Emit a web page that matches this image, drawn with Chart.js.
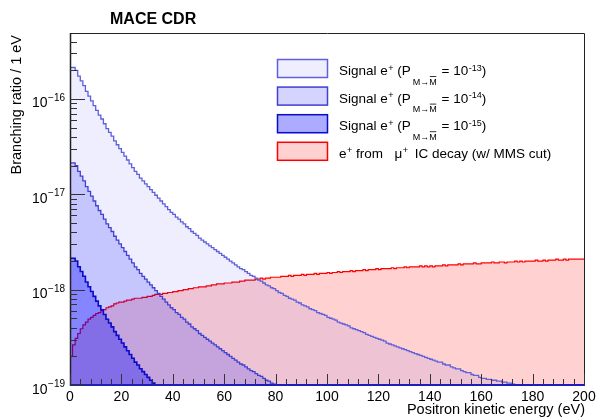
<!DOCTYPE html>
<html>
<head>
<meta charset="utf-8">
<script src="https://cdn.jsdelivr.net/npm/chart.js@4.4.1/dist/chart.umd.min.js"></script>
<style>
  html, body { margin: 0; padding: 0; background: #fff; }
</style>
</head>
<body>
<canvas id="chart-1" width="604" height="418"></canvas>
<script>
// histogram contents, one entry per 1 eV bin starting at 0 eV, stored as log10(branching ratio)
const signal13Log10 = [
  -15.83, -15.67, -15.67, -15.70, -15.76, -15.81, -15.86, -15.92, -15.97, -16.02,
  -16.07, -16.12, -16.17, -16.21, -16.26, -16.31, -16.35, -16.39, -16.44, -16.48,
  -16.52, -16.56, -16.60, -16.64, -16.68, -16.72, -16.76, -16.79, -16.83, -16.86,
  -16.89, -16.92, -16.95, -16.98, -17.01, -17.04, -17.07, -17.10, -17.13, -17.16,
  -17.19, -17.21, -17.24, -17.26, -17.29, -17.31, -17.34, -17.36, -17.39, -17.41,
  -17.43, -17.46, -17.48, -17.50, -17.52, -17.54, -17.56, -17.58, -17.60, -17.62,
  -17.64, -17.66, -17.68, -17.70, -17.72, -17.74, -17.76, -17.78, -17.79, -17.81,
  -17.83, -17.85, -17.86, -17.88, -17.90, -17.91, -17.93, -17.95, -17.96, -17.98,
  -17.99, -18.01, -18.03, -18.04, -18.06, -18.07, -18.09, -18.10, -18.11, -18.13,
  -18.14, -18.16, -18.17, -18.18, -18.20, -18.21, -18.22, -18.24, -18.25, -18.26,
  -18.27, -18.29, -18.30, -18.31, -18.32, -18.34, -18.35, -18.36, -18.37, -18.38,
  -18.40, -18.41, -18.42, -18.43, -18.44, -18.45, -18.47, -18.48, -18.49, -18.50,
  -18.51, -18.52, -18.53, -18.54, -18.56, -18.57, -18.58, -18.59, -18.60, -18.61,
  -18.62, -18.63, -18.64, -18.65, -18.66, -18.67, -18.68, -18.69, -18.70, -18.71,
  -18.72, -18.73, -18.74, -18.75, -18.76, -18.76, -18.78, -18.79, -18.79, -18.81,
  -18.82, -18.83, -18.83, -18.85, -18.86, -18.87, -18.87, -18.89, -18.90, -18.90,
  -18.92, -18.93, -18.93, -18.94, -18.94, -18.95, -18.95, -18.96, -18.96, -18.97,
  -18.97, -18.98, -18.98, -18.99, -19.00, -19.01, -19.02
];

const signal14Log10 = [
  -16.83, -16.67, -16.67, -16.70, -16.76, -16.81, -16.86, -16.92, -16.97, -17.02,
  -17.07, -17.12, -17.17, -17.21, -17.26, -17.31, -17.35, -17.39, -17.44, -17.48,
  -17.52, -17.56, -17.60, -17.64, -17.68, -17.72, -17.76, -17.79, -17.83, -17.86,
  -17.89, -17.92, -17.95, -17.98, -18.01, -18.04, -18.07, -18.10, -18.13, -18.16,
  -18.19, -18.21, -18.24, -18.26, -18.29, -18.31, -18.34, -18.36, -18.39, -18.41,
  -18.43, -18.46, -18.48, -18.50, -18.52, -18.54, -18.56, -18.58, -18.60, -18.62,
  -18.64, -18.66, -18.68, -18.70, -18.72, -18.74, -18.76, -18.78, -18.79, -18.81,
  -18.83, -18.85, -18.86, -18.88, -18.90, -18.91, -18.93, -18.95, -18.96, -18.98,
  -18.99, -19.01, -19.03
];

const signal15Log10 = [
  -17.83, -17.67, -17.67, -17.70, -17.76, -17.81, -17.86, -17.92, -17.97, -18.02,
  -18.07, -18.12, -18.17, -18.21, -18.26, -18.31, -18.35, -18.39, -18.44, -18.48,
  -18.52, -18.56, -18.60, -18.64, -18.68, -18.72, -18.76, -18.79, -18.83, -18.86,
  -18.89, -18.92, -18.95, -18.98, -19.01, -19.04
];

// bin 0 is empty (drawn below the axis)
const icDecayLog10 = [
  -20.00, -18.70, -18.58, -18.51, -18.46, -18.41, -18.37, -18.34, -18.31, -18.29,
  -18.27, -18.25, -18.24, -18.22, -18.21, -18.19, -18.18, -18.17, -18.15, -18.14,
  -18.13, -18.13, -18.12, -18.11, -18.11, -18.10, -18.09, -18.09, -18.09, -18.08,
  -18.08, -18.07, -18.07, -18.06, -18.05, -18.05, -18.05, -18.04, -18.04, -18.03,
  -18.03, -18.02, -18.02, -18.01, -18.01, -18.00, -18.00, -17.99, -17.99, -17.98,
  -17.98, -17.97, -17.97, -17.97, -17.96, -17.96, -17.95, -17.95, -17.94, -17.94,
  -17.94, -17.93, -17.93, -17.93, -17.92, -17.92, -17.92, -17.91, -17.91, -17.90,
  -17.90, -17.90, -17.90, -17.89, -17.89, -17.88, -17.89, -17.88, -17.88, -17.87,
  -17.87, -17.87, -17.87, -17.86, -17.86, -17.86, -17.85, -17.86, -17.85, -17.85,
  -17.85, -17.84, -17.85, -17.84, -17.84, -17.84, -17.83, -17.84, -17.83, -17.83,
  -17.83, -17.82, -17.83, -17.82, -17.82, -17.81, -17.82, -17.81, -17.81, -17.81,
  -17.80, -17.81, -17.80, -17.80, -17.80, -17.79, -17.80, -17.79, -17.79, -17.79,
  -17.78, -17.79, -17.78, -17.78, -17.78, -17.78, -17.77, -17.78, -17.77, -17.77,
  -17.77, -17.76, -17.77, -17.76, -17.76, -17.76, -17.76, -17.75, -17.76, -17.75,
  -17.76, -17.75, -17.76, -17.75, -17.75, -17.75, -17.74, -17.75, -17.74, -17.74,
  -17.74, -17.74, -17.73, -17.74, -17.73, -17.73, -17.73, -17.73, -17.72, -17.73,
  -17.73, -17.72, -17.72, -17.72, -17.72, -17.71, -17.72, -17.72, -17.71, -17.71,
  -17.72, -17.71, -17.71, -17.71, -17.70, -17.71, -17.70, -17.71, -17.70, -17.70,
  -17.70, -17.70, -17.69, -17.70, -17.70, -17.69, -17.70, -17.69, -17.69, -17.69,
  -17.68, -17.69, -17.69, -17.68, -17.69, -17.68, -17.68, -17.68, -17.68, -17.68
];

const legendTexts = ['Signal e', 'Signal e', 'Signal e', 'e'];
const legendExponents = ['-13', '-14', '-15'];
const xTickLabels = ['0', '20', '40', '60', '80', '100', '120', '140', '160', '180', '200'];
const yDecades = [-19, -18, -17, -16];

const X_MIN = 0, X_MAX = 200, Y_MIN = 1e-19, Y_MAX = 4.92e-16;
const FONT = '"Liberation Sans", Arial, Helvetica, sans-serif';

// histogram -> stepped points (bin i spans [i, i+1])
function toHist(logs) {
  const pts = logs.map((v, i) => ({ x: i, y: Math.pow(10, v) }));
  pts.push({ x: logs.length, y: Math.pow(10, logs[logs.length - 1]) });
  return pts;
}

const series = [
  { label: 'sig13', data: signal13Log10, line: 'rgb(95,95,218)', fill: 'rgba(0,0,255,0.065)', width: 1.3, order: 3 },
  { label: 'sig14', data: signal14Log10, line: 'rgb(65,65,208)', fill: 'rgba(0,0,255,0.17)', width: 1.3, order: 2 },
  { label: 'sig15', data: signal15Log10, line: 'rgb(10,10,200)', fill: 'rgba(0,0,255,0.33)', width: 1.6, order: 1 },
  { label: 'icdecay', data: icDecayLog10, line: 'rgb(255,0,0)', fill: 'rgba(255,0,0,0.18)', width: 1.2, order: 4 }
];

function richText(ctx, x, base, pieces) {
  let cx = x;
  const pos = [];
  for (const p of pieces) {
    let size = 13.5, dy = 0;
    if (p.k === 'sup') { size = 9; dy = -4.5; }
    if (p.k === 'sub') { size = 9; dy = 9.5; }
    ctx.font = size + 'px ' + FONT;
    cx += p.dx || 0;
    ctx.fillText(p.t, cx, base + dy);
    pos.push({ x: cx, w: ctx.measureText(p.t).width, y: base + dy });
    cx += ctx.measureText(p.t).width;
  }
  return pos;
}

const decorations = {
  id: 'decorations',
  afterDraw(chart) {
    const { ctx, chartArea: a, scales: { x, y } } = chart;
    const L = Math.round(a.left), R = Math.round(a.right), T = Math.round(a.top), B = Math.round(a.bottom);
    ctx.save();

    // frame
    ctx.strokeStyle = '#222';
    ctx.lineWidth = 1;
    ctx.beginPath();
    ctx.moveTo(L + 0.5, T + 0.5); ctx.lineTo(R + 0.5, T + 0.5);
    ctx.lineTo(R + 0.5, B);
    ctx.stroke();
    ctx.lineWidth = 1.5;
    ctx.beginPath();
    ctx.moveTo(L + 0.5, T); ctx.lineTo(L + 0.5, B + 1);
    ctx.stroke();
    // histogram baseline along the bottom
    ctx.strokeStyle = 'rgb(30,30,190)';
    ctx.lineWidth = 2;
    ctx.beginPath();
    ctx.moveTo(L, B); ctx.lineTo(R + 1, B);
    ctx.stroke();

    // x ticks
    ctx.strokeStyle = '#333';
    ctx.lineWidth = 1;
    ctx.beginPath();
    for (let v = X_MIN; v <= X_MAX; v += 4) {
      const px = Math.round(x.getPixelForValue(v)) + 0.5;
      const len = v % 20 === 0 ? 11 : 6;
      ctx.moveTo(px, B); ctx.lineTo(px, B - len);
    }
    ctx.stroke();

    // y ticks
    ctx.beginPath();
    for (const d of yDecades) {
      for (let m = 1; m <= 9; m++) {
        const v = m * Math.pow(10, d);
        if (v > Y_MAX * 1.0001) break;
        const py = Math.round(y.getPixelForValue(v)) + 0.5;
        const len = m === 1 ? 15 : 7;
        ctx.moveTo(L, py); ctx.lineTo(L + len, py);
      }
    }
    ctx.stroke();

    // x tick labels
    ctx.fillStyle = '#000';
    ctx.font = '14px ' + FONT;
    ctx.textAlign = 'center';
    ctx.textBaseline = 'alphabetic';
    xTickLabels.forEach(t => {
      ctx.fillText(t, x.getPixelForValue(Number(t)), 401);
    });

    // y tick labels 10^d
    yDecades.forEach(d => {
      const py = y.getPixelForValue(Math.pow(10, d));
      const sup = '\u2212' + String(-d);
      ctx.font = '10px ' + FONT;
      const sw = ctx.measureText(sup).width;
      ctx.textAlign = 'left';
      ctx.fillText(sup, 65 - sw, py + 2);
      ctx.font = '14px ' + FONT;
      ctx.textAlign = 'right';
      ctx.fillText('10', 65 - sw - 0.5, py + 8.5);
    });

    // titles
    ctx.textAlign = 'left';
    ctx.font = 'bold 16px ' + FONT;
    ctx.fillText('MACE CDR', 110, 23.5);

    ctx.font = '14.5px ' + FONT;
    ctx.textAlign = 'right';
    ctx.fillText('Positron kinetic energy (eV)', R + 1, 414);

    ctx.save();
    ctx.translate(21, 35);
    ctx.rotate(-Math.PI / 2);
    ctx.fillText('Branching ratio / 1 eV', 0, 0);
    ctx.restore();

    // legend
    const boxL = 277, boxW = 51, boxH = 19, textX = 339;
    series.forEach((s, k) => {
      const cy = 68.5 + 27.6 * k;
      ctx.fillStyle = '#fff';
      ctx.fillRect(boxL, cy - boxH / 2, boxW, boxH);
      ctx.fillStyle = s.fill;
      ctx.fillRect(boxL, cy - boxH / 2, boxW, boxH);
      ctx.strokeStyle = s.line;
      ctx.lineWidth = 1.5;
      ctx.strokeRect(boxL + 0.5, cy - boxH / 2 + 0.5, boxW - 1, boxH - 1);

      ctx.fillStyle = '#000';
      ctx.textAlign = 'left';
      const base = cy + 6.5;
      if (k < 3) {
        const pos = richText(ctx, textX, base, [
          { t: legendTexts[k] },
          { t: '+', k: 'sup', dx: 0.5 },
          { t: ' (P' },
          { t: 'M\u2192M', k: 'sub', dx: 2 },
          { t: ' = 10', dx: 1 },
          { t: legendExponents[k], k: 'sup', dx: 0.5 },
          { t: ')' }
        ]);
        // bar over the second M
        ctx.font = '9px ' + FONT;
        const sub = pos[3];
        const wM = ctx.measureText('M').width;
        const ox = sub.x + sub.w - wM;
        ctx.strokeStyle = '#000';
        ctx.lineWidth = 0.8;
        ctx.beginPath();
        ctx.moveTo(ox + 0.5, sub.y - 8);
        ctx.lineTo(ox + wM - 0.5, sub.y - 8);
        ctx.stroke();
      } else {
        richText(ctx, textX, base, [
          { t: legendTexts[k] },
          { t: '+', k: 'sup', dx: 0.5 },
          { t: ' from  ' },
          { t: '\u03bc', dx: 4 },
          { t: '+', k: 'sup', dx: 0.5 },
          { t: ' IC decay (w/ MMS cut)', dx: 3 }
        ]);
      }
    });

    ctx.restore();
  }
};

new Chart(document.getElementById('chart-1'), {
  type: 'line',
  data: {
    datasets: series.map(s => ({
      label: s.label,
      data: toHist(s.data),
      stepped: 'after',
      borderColor: s.line,
      backgroundColor: s.fill,
      borderWidth: s.width,
      fill: 'start',
      pointRadius: 0,
      tension: 0,
      order: s.order
    }))
  },
  options: {
    responsive: false,
    animation: false,
    devicePixelRatio: 1,
    layout: { padding: { left: 70, right: 20, top: 33, bottom: 33 } },
    plugins: { legend: { display: false }, tooltip: { enabled: false } },
    scales: {
      x: { type: 'linear', min: X_MIN, max: X_MAX, display: false },
      y: { type: 'logarithmic', min: Y_MIN, max: Y_MAX, display: false }
    }
  },
  plugins: [decorations]
});
</script>
</body>
</html>
